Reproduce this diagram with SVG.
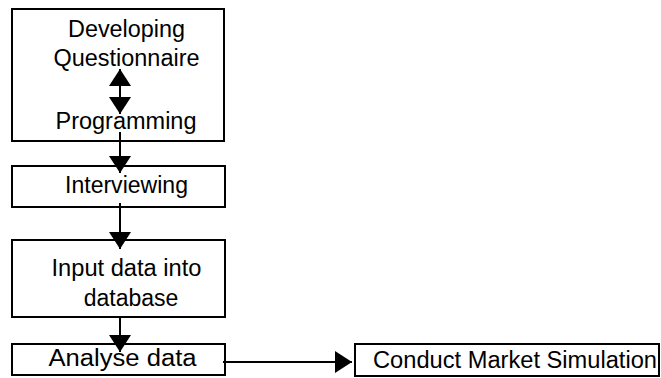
<svg xmlns="http://www.w3.org/2000/svg" width="661" height="378" viewBox="0 0 661 378">
  <style>
    .box { fill: #ffffff; stroke: #000000; stroke-width: 2; }
    .lbl { font-family: "Liberation Sans", Arial, sans-serif; font-size: 23px; fill: #000000; text-anchor: middle; }
    .conn { stroke: #000000; stroke-width: 2; fill: none; }
  </style>
  <defs>
    <marker id="head" markerUnits="userSpaceOnUse" markerWidth="18" markerHeight="22" refX="17" refY="11" orient="auto-start-reverse" viewBox="0 0 18 22">
      <path d="M0,0 L17,11 L0,22 Z" fill="#000000"/>
    </marker>
  </defs>

  <g id="node-questionnaire">
    <rect class="box" x="12" y="9" width="212" height="132"/>
    <text class="lbl" x="126.5" y="37" textLength="117" lengthAdjust="spacingAndGlyphs">Developing</text>
    <text class="lbl" x="126.5" y="66" textLength="146" lengthAdjust="spacingAndGlyphs">Questionnaire</text>
    <text class="lbl" x="126" y="129" textLength="141" lengthAdjust="spacingAndGlyphs">Programming</text>
  </g>

  <g id="node-interviewing">
    <rect class="box" x="12" y="166" width="213" height="41"/>
    <text class="lbl" x="126.5" y="193" textLength="123" lengthAdjust="spacingAndGlyphs">Interviewing</text>
  </g>

  <g id="node-input">
    <rect class="box" x="12" y="240" width="213" height="77"/>
    <text class="lbl" x="126.5" y="276" textLength="150" lengthAdjust="spacingAndGlyphs">Input data into</text>
    <text class="lbl" x="131" y="306">database</text>
  </g>

  <g id="node-analyse">
    <rect class="box" x="12" y="344" width="213" height="31"/>
    <text class="lbl" x="122.5" y="366" textLength="148" lengthAdjust="spacingAndGlyphs">Analyse data</text>
  </g>

  <g id="node-simulation">
    <rect class="box" x="355" y="344" width="304" height="32"/>
    <text class="lbl" x="515" y="368" textLength="284" lengthAdjust="spacingAndGlyphs">Conduct Market Simulation</text>
  </g>

  <g id="connectors">
    <line class="conn" x1="120" y1="69" x2="120" y2="114" marker-start="url(#head)" marker-end="url(#head)"/>
    <line class="conn" x1="120" y1="132" x2="120" y2="173" marker-end="url(#head)"/>
    <line class="conn" x1="120" y1="203" x2="120" y2="249" marker-end="url(#head)"/>
    <line class="conn" x1="120" y1="317" x2="120" y2="352" marker-end="url(#head)"/>
    <line class="conn" x1="223" y1="362" x2="352" y2="362" marker-end="url(#head)"/>
  </g>
</svg>
